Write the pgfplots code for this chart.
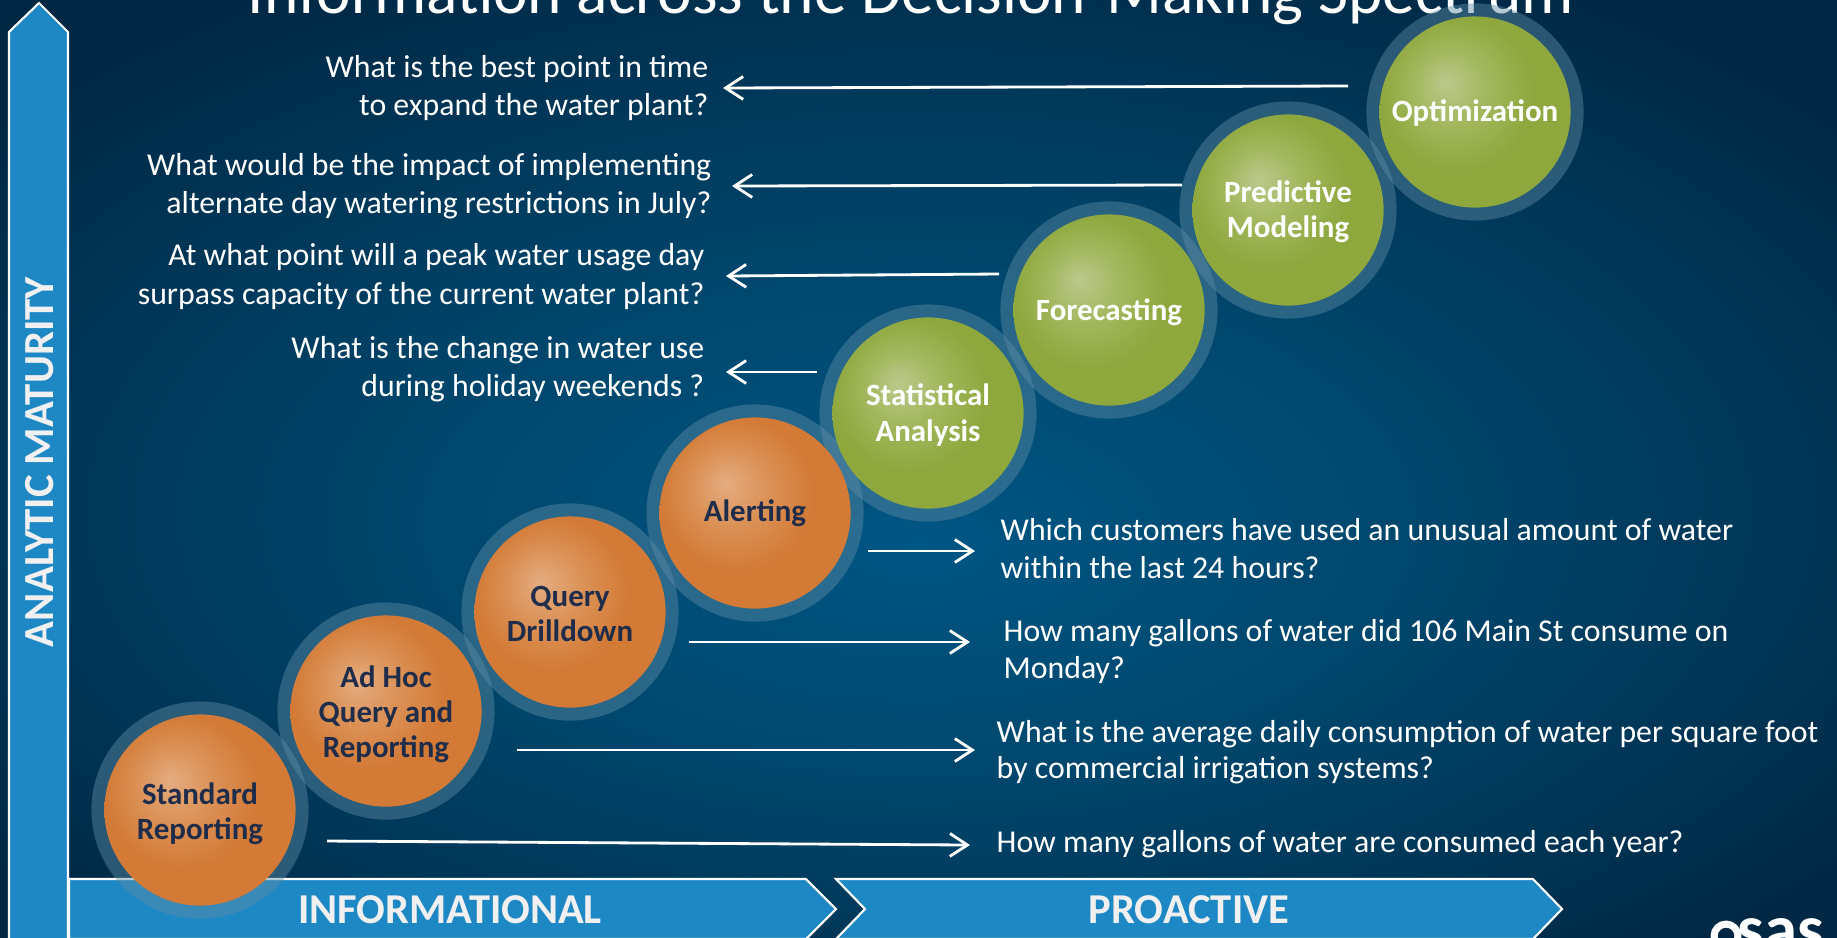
\documentclass[border=0pt]{standalone}
\usepackage{fontspec}
\setmainfont{Carlito}
\usepackage{pgfplots}
\usepackage{pgfplotstable}
\pgfplotsset{compat=1.18}
\usetikzlibrary{arrows.meta}

\definecolor{bgin}{RGB}{0,86,132}
\definecolor{bgmid}{RGB}{0,70,108}
\definecolor{bgout}{RGB}{0,40,68}
\definecolor{band}{RGB}{30,136,196}
\definecolor{bandtxt}{RGB}{240,240,240}
\definecolor{orhi}{RGB}{228,172,128}
\definecolor{ormid}{RGB}{219,145,86}
\definecolor{orbase}{RGB}{211,122,54}
\definecolor{grhi}{RGB}{186,201,140}
\definecolor{grmid}{RGB}{162,183,92}
\definecolor{grbase}{RGB}{142,168,62}
\definecolor{halo}{RGB}{95,140,165}
\definecolor{navytxt}{RGB}{31,45,75}

% circle look: soft highlight up-left
\pgfdeclareradialshading{orshade}{\pgfpoint{-8bp}{8bp}}{color(0bp)=(orhi); color(10bp)=(ormid); color(20bp)=(orbase); color(50bp)=(orbase)}
\pgfdeclareradialshading{grshade}{\pgfpoint{-8bp}{8bp}}{color(0bp)=(grhi); color(10bp)=(grmid); color(20bp)=(grbase); color(50bp)=(grbase)}
\pgfdeclareradialshading{bgshade}{\pgfpoint{0bp}{-4bp}}{color(0bp)=(bgin); color(14bp)=(bgmid); color(32bp)=(bgout); color(50bp)=(bgout)}

\pgfdeclareplotmark{orball}{\shade[shading=orshade, draw=none] (0pt,0pt) circle (\pgfplotmarksize);}
\pgfdeclareplotmark{grball}{\shade[shading=grshade, draw=none] (0pt,0pt) circle (\pgfplotmarksize);}
\pgfdeclareplotmark{halo}{\fill[halo, fill opacity=0.45, draw=none] (0pt,0pt) circle (\pgfplotmarksize);}

% circle centres, in picture pixels (y downwards)
\pgfplotstableread{
x y
200 810
386 711
570 612
755 513
}\informational
\pgfplotstableread{
x y
928 413
1109 310
1288 210
1475 112
}\proactive

\newcommand{\qfont}{\fontsize{9.05}{10.8}\selectfont}
\newcommand{\cfont}{\bfseries\fontsize{8.8}{10}\selectfont}
\tikzset{q/.style={text=white, font=\qfont, inner sep=0pt}}

\begin{document}
\begin{tikzpicture}
\useasboundingbox (0,0) rectangle (18.37cm,9.37cm);
\clip (0,0) rectangle (18.37cm,9.37cm);
\shade[shading=bgshade] (0,0) rectangle (18.37cm,9.37cm);
\begin{axis}[at={(0,0)}, anchor=south west, width=18.37cm, height=9.37cm,
    scale only axis, xmin=0, xmax=1837, ymin=0, ymax=937, y dir=reverse,
    hide axis, clip=false]

  % frame: vertical arrow and the two chevron bands
  \filldraw[fill=band, draw=white, line width=0.6pt]
    (axis cs:9,950) -- (axis cs:9,32) -- (axis cs:39,3) -- (axis cs:68,32) -- (axis cs:68,950) -- cycle;
  \filldraw[fill=band, draw=white, line width=0.6pt]
    (axis cs:69,879) -- (axis cs:806,879) -- (axis cs:836,909) -- (axis cs:806,939) -- (axis cs:69,939) -- cycle;
  \filldraw[fill=band, draw=white, line width=0.6pt]
    (axis cs:836,879) -- (axis cs:1533,879) -- (axis cs:1562,909) -- (axis cs:1533,939) -- (axis cs:836,939) -- (axis cs:865,909) -- cycle;
  \node[rotate=90, inner sep=0pt, text=bandtxt, font=\bfseries\fontsize{12.2}{14}\selectfont] at (axis cs:40,462) {ANALYTIC MATURITY};
  \node[anchor=base, inner sep=0pt, text=bandtxt, font=\bfseries\fontsize{12.1}{14}\selectfont] at (axis cs:450,923) {INFORMATIONAL};
  \node[anchor=base, inner sep=0pt, text=bandtxt, font=\bfseries\fontsize{12.1}{14}\selectfont] at (axis cs:1189,923) {PROACTIVE};

  \node[anchor=base, inner sep=0pt, text=white, font=\fontsize{18.6}{22}\selectfont] at (axis cs:911,13) {Information across the Decision-Making Spectrum};

  % arrows from the circles to the questions
  \addplot[white, line width=0.8pt, -{Straight Barb[length=5pt,width=6.5pt]}] coordinates {(1348,86) (723,88)};
  \addplot[white, line width=0.8pt, -{Straight Barb[length=5pt,width=6.5pt]}] coordinates {(1182,185) (732,186)};
  \addplot[white, line width=0.8pt, -{Straight Barb[length=5pt,width=6.5pt]}] coordinates {(999,274) (726,276)};
  \addplot[white, line width=0.8pt, -{Straight Barb[length=5pt,width=6.5pt]}] coordinates {(817,372) (726,372)};
  \addplot[white, line width=0.8pt, -{Straight Barb[length=5pt,width=6.5pt]}] coordinates {(868,551) (975,551)};
  \addplot[white, line width=0.8pt, -{Straight Barb[length=5pt,width=6.5pt]}] coordinates {(689,642) (970,642)};
  \addplot[white, line width=0.8pt, -{Straight Barb[length=5pt,width=6.5pt]}] coordinates {(517,750) (975,750)};
  \addplot[white, line width=0.8pt, -{Straight Barb[length=5pt,width=6.5pt]}] coordinates {(327,841) (970,845)};

  % circles with their translucent rims
  \addplot[only marks, mark=halo, mark size=30.9pt, mark options={draw opacity=0}] table {\informational};
  \addplot[only marks, mark=halo, mark size=30.9pt, mark options={draw opacity=0}] table {\proactive};
  \addplot[only marks, mark=orball, mark size=27.2pt, mark options={draw opacity=0}] table {\informational};
  \addplot[only marks, mark=grball, mark size=27.2pt, mark options={draw opacity=0}] table {\proactive};

  \coordinate (c1) at (axis cs:200,814);
  \coordinate (c2) at (axis cs:386,714);
  \coordinate (c3) at (axis cs:570,614);
  \coordinate (c4) at (axis cs:755,513);
  \coordinate (c5) at (axis cs:928,415);
  \coordinate (c6) at (axis cs:1109,312);
  \coordinate (c7) at (axis cs:1288,212);
  \coordinate (c8) at (axis cs:1475,113);

  % questions on the left
  \node[anchor=base east, q] at (axis cs:709,77) {What is the best point in time};
  \node[anchor=base east, q] at (axis cs:709,115) {to expand the water plant?};
  \node[anchor=base east, q] at (axis cs:712,175) {What would be the impact of implementing};
  \node[anchor=base east, q] at (axis cs:712,213) {alternate day watering restrictions in July?};
  \node[anchor=base east, q] at (axis cs:705,265) {At what point will a peak water usage day};
  \node[anchor=base east, q] at (axis cs:705,304) {surpass capacity of the current water plant?};
  \node[anchor=base east, q] at (axis cs:705,358) {What is the change in water use};
  \node[anchor=base east, q] at (axis cs:705,396) {during holiday weekends ?};

  % questions on the right
  \node[anchor=base west, q] at (axis cs:1000,540) {Which customers have used an unusual amount of water};
  \node[anchor=base west, q] at (axis cs:1000,578) {within the last 24 hours?};
  \node[anchor=base west, q] at (axis cs:1003,641) {How many gallons of water did 106 Main St consume on};
  \node[anchor=base west, q] at (axis cs:1003,678) {Monday?};
  \node[anchor=base west, q] at (axis cs:996,742) {What is the average daily consumption of water per square foot};
  \node[anchor=base west, q] at (axis cs:996,778) {by commercial irrigation systems?};
  \node[anchor=base west, q] at (axis cs:996,852) {How many gallons of water are consumed each year?};

  % logo, cut by the lower edge
  \draw[white, line width=2pt] (axis cs:1726,936) circle[radius=3.4pt];
  \node[anchor=base west, inner sep=0pt, text=white, font=\bfseries\fontsize{19}{22}\selectfont] at (axis cs:1737,951) {sas};
\end{axis}

% circle names, set on top of the marks
\node[align=center, text=navytxt, font=\cfont] at (c1) {Standard\\Reporting};
\node[align=center, text=navytxt, font=\cfont] at (c2) {Ad Hoc\\Query and\\Reporting};
\node[align=center, text=navytxt, font=\cfont] at (c3) {Query\\Drilldown};
\node[align=center, text=navytxt, font=\cfont] at (c4) {Alerting};
\node[align=center, text=white, font=\cfont] at (c5) {Statistical\\Analysis};
\node[align=center, text=white, font=\cfont] at (c6) {Forecasting};
\node[align=center, text=white, font=\cfont] at (c7) {Predictive\\Modeling};
\node[align=center, text=white, font=\cfont] at (c8) {Optimization};
\end{tikzpicture}
\end{document}
